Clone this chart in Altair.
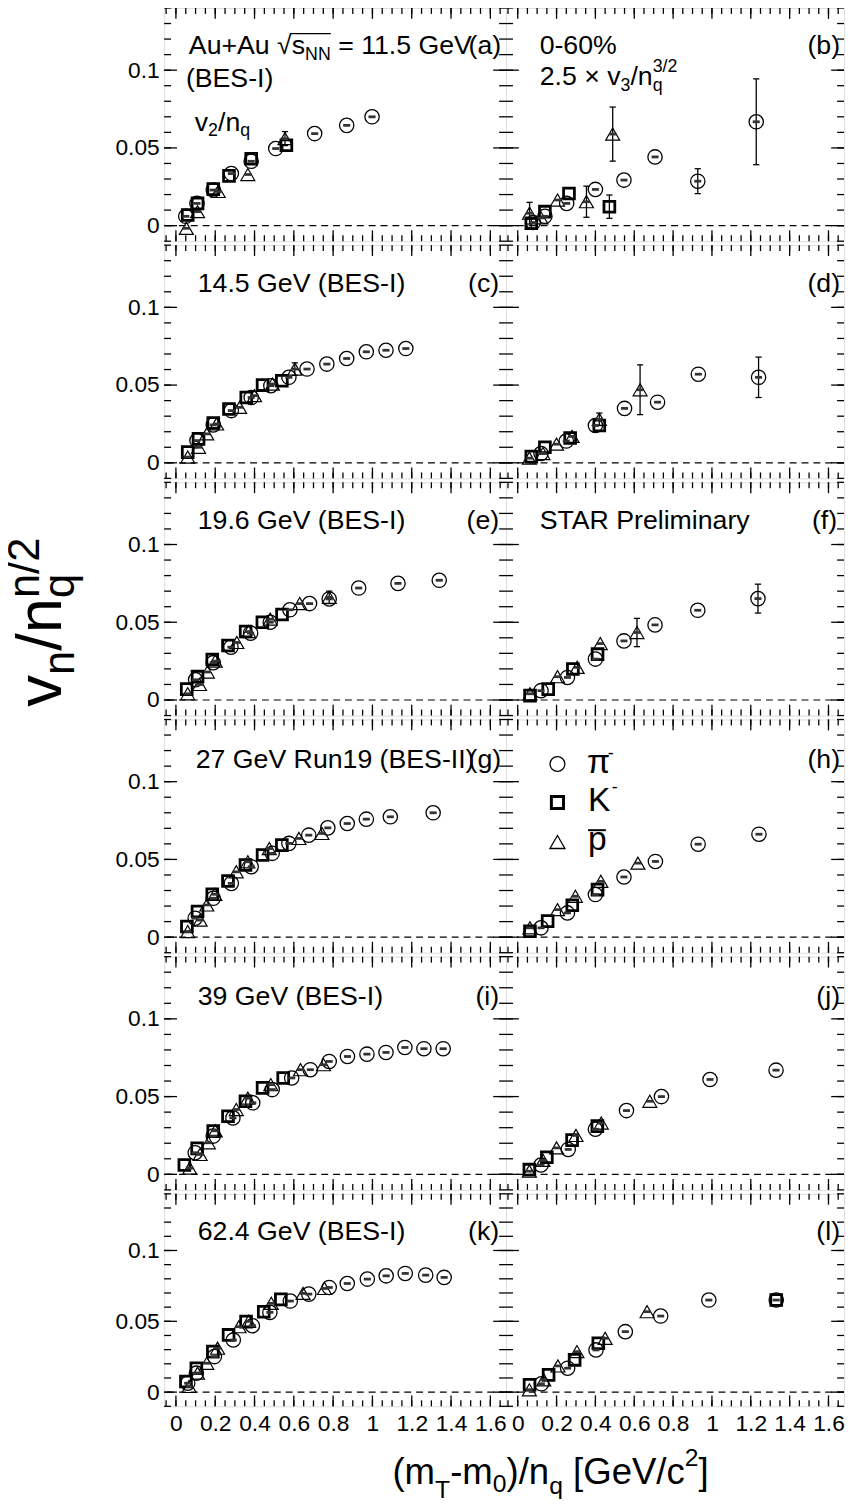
import altair as alt
import pandas as pd

FONT = "Liberation Sans"

# ---------------- data: (x = (mT-m0)/nq , y = vn/nq^(n/2)) ----------------
# panel (a) 11.5 GeV v2
a_pi = [(0.05, 0.006), (0.107, 0.0143), (0.19, 0.0229), (0.282, 0.0335), (0.383, 0.0414),
        (0.508, 0.0496), (0.706, 0.0592), (0.869, 0.0645), (0.998, 0.070)]
a_k = [(0.06, 0.0068), (0.11, 0.0143), (0.19, 0.0235), (0.27, 0.032), (0.383, 0.043), (0.562, 0.0517)]
a_p = [(0.053, -0.0017), (0.11, 0.009), (0.215, 0.022), (0.366, 0.0329), (0.555, 0.056)]
a_err = [(0.555, 0.056, 0.0045)]
# panel (b) 11.5 GeV v3
b_pi = [(0.08, 0.002), (0.14, 0.006), (0.252, 0.0143), (0.40, 0.0233), (0.547, 0.0293),
        (0.707, 0.0442), (0.927, 0.0286), (1.228, 0.0668)]
b_k = [(0.07, 0.0015), (0.14, 0.009), (0.264, 0.0207), (0.472, 0.0122)]
b_p = [(0.061, 0.008), (0.12, 0.005), (0.205, 0.0165), (0.354, 0.0154), (0.489, 0.0589)]
b_err = [(0.927, 0.0286, 0.008), (1.228, 0.0668, 0.0276), (0.472, 0.0122, 0.0075),
         (0.061, 0.008, 0.007), (0.354, 0.0154, 0.010), (0.489, 0.0589, 0.0174), (0.07, 0.0015, 0.003)]
# panel (c) 14.5 GeV v2
c_pi = [(0.107, 0.0143), (0.19, 0.0244), (0.282, 0.0336), (0.383, 0.042), (0.483, 0.0496),
        (0.575, 0.055), (0.667, 0.0603), (0.768, 0.0635), (0.869, 0.0671), (0.969, 0.0714),
        (1.069, 0.0724), (1.17, 0.0735)]
c_k = [(0.06, 0.0069), (0.115, 0.0154), (0.19, 0.0256), (0.27, 0.0346), (0.358, 0.042),
       (0.441, 0.050), (0.539, 0.0528)]
c_p = [(0.06, 0.0037), (0.115, 0.010), (0.157, 0.0186), (0.207, 0.025), (0.324, 0.0357),
       (0.40, 0.0432), (0.491, 0.0507), (0.605, 0.0603)]
c_err = [(0.605, 0.0603, 0.004)]
# panel (d) 14.5 GeV v3
d_pi = [(0.12, 0.006), (0.25, 0.014), (0.40, 0.024), (0.55, 0.035), (0.72, 0.039),
        (0.93, 0.057), (1.24, 0.055)]
d_k = [(0.07, 0.004), (0.14, 0.010), (0.27, 0.016), (0.42, 0.024)]
d_p = [(0.06, 0.003), (0.13, 0.006), (0.20, 0.012), (0.28, 0.017), (0.42, 0.028), (0.63, 0.047)]
d_err = [(1.24, 0.055, 0.013), (0.63, 0.047, 0.016), (0.42, 0.028, 0.004)]
# panel (e) 19.6 GeV v2
e_pi = [(0.10, 0.013), (0.19, 0.024), (0.28, 0.034), (0.38, 0.043), (0.48, 0.050), (0.58, 0.058),
        (0.68, 0.062), (0.78, 0.065), (0.93, 0.072), (1.13, 0.075), (1.34, 0.077)]
e_k = [(0.055, 0.007), (0.11, 0.015), (0.185, 0.026), (0.265, 0.035), (0.355, 0.044),
       (0.44, 0.050), (0.54, 0.055)]
e_p = [(0.06, 0.004), (0.12, 0.010), (0.16, 0.018), (0.20, 0.025), (0.31, 0.037), (0.37, 0.044),
       (0.48, 0.052), (0.63, 0.062), (0.78, 0.066)]
e_err = [(0.78, 0.066, 0.004)]
# panel (f) 19.6 GeV v3
f_pi = [(0.12, 0.006), (0.256, 0.0145), (0.40, 0.0263), (0.547, 0.038), (0.707, 0.0483),
        (0.927, 0.0577), (1.237, 0.0652)]
f_k = [(0.0635, 0.0028), (0.157, 0.007), (0.284, 0.0199), (0.411, 0.0295)]
f_p = [(0.063, 0.004), (0.205, 0.015), (0.306, 0.021), (0.425, 0.0363), (0.614, 0.0434)]
f_err = [(1.237, 0.0652, 0.0093), (0.614, 0.0434, 0.0091)]
# panel (g) 27 GeV v2
g_pi = [(0.098, 0.0122), (0.19, 0.025), (0.282, 0.0346), (0.383, 0.0453), (0.49, 0.0539),
        (0.575, 0.0603), (0.676, 0.0656), (0.773, 0.0703), (0.872, 0.0731), (0.969, 0.0759),
        (1.091, 0.0774), (1.309, 0.080)]
g_k = [(0.056, 0.0069), (0.11, 0.0165), (0.185, 0.0276), (0.265, 0.0361), (0.354, 0.0464),
       (0.441, 0.0528), (0.539, 0.0592)]
g_p = [(0.06, 0.0036), (0.123, 0.011), (0.157, 0.0207), (0.198, 0.0276), (0.307, 0.042),
       (0.366, 0.0485), (0.475, 0.057), (0.626, 0.0635), (0.743, 0.0667)]
g_err = []
# panel (h) 27 GeV v3
h_pi = [(0.12, 0.006), (0.256, 0.0156), (0.40, 0.0274), (0.547, 0.0387), (0.709, 0.0487),
        (0.929, 0.0598), (1.242, 0.0662)]
h_k = [(0.063, 0.0038), (0.154, 0.0103), (0.281, 0.0205), (0.411, 0.0306)]
h_p = [(0.063, 0.006), (0.205, 0.0177), (0.297, 0.0263), (0.428, 0.0359), (0.619, 0.0476)]
h_err = []
# panel (i) 39 GeV v2
i_pi = [(0.098, 0.0139), (0.19, 0.0246), (0.29, 0.0363), (0.391, 0.046), (0.49, 0.0545),
        (0.589, 0.062), (0.684, 0.0673), (0.78, 0.0726), (0.873, 0.0758), (0.972, 0.0773),
        (1.069, 0.0784), (1.165, 0.0816), (1.262, 0.0808), (1.36, 0.0808)]
i_k = [(0.043, 0.006), (0.108, 0.0167), (0.19, 0.0278), (0.265, 0.0374), (0.354, 0.047),
       (0.441, 0.0556), (0.546, 0.062)]
i_p = [(0.07, 0.004), (0.123, 0.0128), (0.165, 0.0203), (0.20, 0.028), (0.307, 0.0417),
       (0.366, 0.049), (0.483, 0.0577), (0.634, 0.0673), (0.751, 0.0705)]
i_err = []
# panel (j) 39 GeV v3
j_pi = [(0.12, 0.006), (0.26, 0.016), (0.40, 0.029), (0.56, 0.041), (0.74, 0.050),
        (0.99, 0.061), (1.33, 0.067)]
j_k = [(0.06, 0.003), (0.15, 0.011), (0.28, 0.022), (0.41, 0.031)]
j_p = [(0.06, 0.002), (0.13, 0.009), (0.20, 0.017), (0.30, 0.025), (0.43, 0.033), (0.68, 0.047)]
j_err = []
# panel (k) 62.4 GeV v2
k_pi = [(0.06, 0.0063), (0.104, 0.0134), (0.196, 0.0251), (0.292, 0.0368), (0.389, 0.0469),
        (0.478, 0.0563), (0.582, 0.0643), (0.676, 0.0692), (0.78, 0.0739), (0.872, 0.0767),
        (0.974, 0.0798), (1.07, 0.0821), (1.167, 0.0838), (1.271, 0.0826), (1.365, 0.081)]
k_k = [(0.051, 0.0075), (0.104, 0.0169), (0.188, 0.0286), (0.268, 0.0404), (0.357, 0.0498),
       (0.447, 0.0568), (0.534, 0.0655)]
k_p = [(0.067, 0.004), (0.11, 0.0134), (0.157, 0.0204), (0.212, 0.031), (0.321, 0.0462),
       (0.37, 0.050), (0.485, 0.0627), (0.647, 0.0697), (0.756, 0.0732)]
k_err = []
# panel (l) 62.4 GeV v3
l_pi = [(0.122, 0.0059), (0.257, 0.0169), (0.403, 0.0298), (0.554, 0.0427), (0.736, 0.0537),
        (0.984, 0.065), (1.331, 0.065)]
l_k = [(0.061, 0.0052), (0.159, 0.0122), (0.293, 0.0228), (0.415, 0.0345), (1.331, 0.065)]
l_p = [(0.06, 0.0016), (0.134, 0.0087), (0.207, 0.0185), (0.305, 0.0286), (0.45, 0.038), (0.666, 0.0568)]
l_err = []

XMAJ = [0, 0.2, 0.4, 0.6, 0.8, 1.0, 1.2, 1.4, 1.6]
XMIN = [round(-0.05 + 0.05 * i, 2) for i in range(35)]
YMAJ = [0, 0.05, 0.1]
YMIN = [round(-0.01 + 0.01 * i, 2) for i in range(16)]

# ---------------- helpers ----------------
ONE = pd.DataFrame({"o": [0]})
XS = alt.Scale(domain=[-0.06, 1.68], nice=False, zero=False)
YS = alt.Scale(domain=[-0.01, 0.14], nice=False, zero=False)
W_L, W_R = 346, 342
H, H_LAST = 236, 215
TS = 27      # panel text size
LS = 23      # tick label size

CW = {' ': 278, '(': 333, ')': 333, '-': 333, '/': 278, '.': 278, '=': 584, '+': 584, '[': 278,
      ']': 278, '%': 889, '×': 584, '√': 549, 'A': 667, 'B': 667, 'E': 667, 'G': 778, 'I': 278,
      'K': 667, 'N': 722, 'P': 667, 'R': 722, 'S': 667, 'T': 611, 'V': 667, 'a': 556, 'c': 500,
      'e': 556, 'i': 222, 'l': 222, 'm': 833, 'n': 556, 'p': 556, 'q': 556, 'r': 333, 's': 500,
      'u': 556, 'v': 500, 'y': 500, 'π': 556}


def tw(s, size):
    return sum(CW.get(c, 556) for c in s) * size / 1000.0


def label(s, x, y, size, align="left", angle=0):
    return alt.Chart(ONE).mark_text(text=s, font=FONT, fontSize=size, align=align,
                                    baseline="alphabetic", angle=angle, color="black").encode(
        x=alt.value(x), y=alt.value(y))


def rich(segs, x, y, angle=0):
    out = []
    pos = 0.0
    for seg in segs:
        text, size, shift = seg[0], seg[1], seg[2]
        adv = seg[3] if len(seg) > 3 else True
        lead = len(text) - len(text.lstrip(" "))
        body = text.strip(" ")
        p0 = pos + tw(" " * lead, size)
        if angle == 0:
            out.append(label(body, x + p0, y + shift, size))
        else:
            out.append(label(body, x + shift, y - p0, size, angle=270))
        if adv:
            pos += tw(text, size)
    return out


def hline(x1, x2, y, sw=1.4):
    return alt.Chart(ONE).mark_rule(color="black", strokeWidth=sw).encode(
        x=alt.value(x1), x2=alt.value(x2), y=alt.value(y))


def sym(shape, x, y, size, sw):
    return alt.Chart(ONE).mark_point(shape=shape, size=size, filled=False, color="black",
                                     strokeWidth=sw, opacity=1).encode(x=alt.value(x), y=alt.value(y))


def texts_for(key, w):
    L = []
    R = w - 7
    B = 47
    if key == "a":
        segs = [("Au+Au ", TS, 0), ("√", TS, 0), ("s", TS, 0), ("NN", 18, 6), (" = 11.5 GeV", TS, 0)]
        L += rich(segs, 25, B)
        xs = 25 + tw("Au+Au √", TS)
        xe = xs + tw("s", TS) + tw("NN", 18)
        L.append(hline(xs - 1, xe, 26))
        L.append(label("(a)", R + 2, B, TS, "right"))
        L.append(label("(BES-I)", 22, 80, TS))
        L += rich([("v", TS, 0), ("2", 18, 6), ("/n", TS, 0), ("q", 18, 6)], 31, 124)
    elif key == "b":
        L.append(label("0-60%", 34, B, TS))
        L += rich([("2.5 × v", TS, 0), ("3", 18, 6), ("/n", TS, 0), ("q", 18, 6, False),
                   ("3/2", 18, -13)], 34, 78)
        L.append(label("(b)", R + 3, B, TS, "right"))
    elif key == "c":
        L.append(label("14.5 GeV (BES-I)", 34, B, TS))
        L.append(label("(c)", R, B, TS, "right"))
    elif key == "d":
        L.append(label("(d)", R + 3, B, TS, "right"))
    elif key == "e":
        L.append(label("19.6 GeV (BES-I)", 34, B, TS))
        L.append(label("(e)", R, B, TS, "right"))
        # y-axis title placed in this panel (row 3, left)
        L += rich([("v", 64, 0), ("n", 44, 13), ("/", 64, 0), ("n", 64, 0), ("q", 44, 13, False),
                   ("n/2", 44, -23)], -104, 227, angle=270)
    elif key == "f":
        L.append(label("STAR Preliminary", 34, B, TS))
        L.append(label("(f)", R, B, TS, "right"))
    elif key == "g":
        L.append(label("27 GeV Run19 (BES-II)", 32, B + 2, TS))
        L.append(label("(g)", R + 2, B + 2, TS, "right"))
    elif key == "h":
        L.append(label("(h)", R + 3, B + 2, TS, "right"))
        L.append(sym("circle", 52, 45, 225, 1.3))
        L.append(sym("square", 52, 84, 150, 3))
        L.append(sym("triangle-up", 52, 124, 230, 1.3))
        L.append(label("π", 82, 54, 34))
        L.append(label("-", 103, 40, 18))
        L.append(label("K", 83, 93, 34))
        L.append(label("-", 107, 74, 18))
        L.append(label("p", 83, 132, 34))
        L.append(hline(83, 101, 112, 2))
    elif key == "i":
        L.append(label("39 GeV (BES-I)", 34, B + 2, TS))
        L.append(label("(i)", R, B + 2, TS, "right"))
    elif key == "j":
        L.append(label("(j)", R + 3, B + 2, TS, "right"))
    elif key == "k":
        L.append(label("62.4 GeV (BES-I)", 34, B, TS))
        L.append(label("(k)", R, B, TS, "right"))
        # x-axis title placed below this panel
        L += rich([("(m", 37, 0), ("T", 25, 14), ("-m", 37, 0), ("0", 25, 8), (")/n", 37, 0),
                   ("q", 25, 10), (" [GeV/c", 37, 0), ("2", 25, -19), ("]", 37, 0)], 231, 294)
    elif key == "l":
        L.append(label("(l)", R + 3, B, TS, "right"))
    return L


def pdf(lst):
    return pd.DataFrame(lst, columns=["x", "y"])


def panel(key, pi, k, p, err, col, row):
    w = W_L if col == 0 else W_R
    h = H if row < 5 else H_LAST
    xa = alt.Axis(values=XMAJ, format="~g", ticks=False, domain=False, grid=False, labelFontSize=LS,
                  labelPadding=6, title=None, labelFont=FONT, labelColor="black", labelFlush=False,
                  labelOverlap=False) if row == 5 else None
    ya = alt.Axis(values=YMAJ, format="~g", ticks=False, domain=False, grid=False, labelFontSize=LS,
                  labelPadding=5, title=None, labelFont=FONT, labelColor="black", labelFlush=False,
                  labelOverlap=False) if col == 0 else None

    def X(f):
        return alt.X(f"{f}:Q", scale=XS, axis=xa)

    def Y(f):
        return alt.Y(f"{f}:Q", scale=YS, axis=ya)

    layers = []
    layers.append(alt.Chart(pd.DataFrame({"v": [0.0]})).mark_rule(
        color="black", strokeWidth=1.2, strokeDash=[7, 5]).encode(y=Y("v")))
    # ticks (inward on all four sides)
    for vals, Ln in ((YMAJ, 13), (YMIN, 7)):
        d = pd.DataFrame({"v": vals})
        layers.append(alt.Chart(d).mark_rule(color="black", strokeWidth=1.3).encode(
            y=Y("v"), x=alt.value(0), x2=alt.value(Ln)))
        layers.append(alt.Chart(d).mark_rule(color="black", strokeWidth=1.3).encode(
            y=Y("v"), x=alt.value(w - Ln), x2=alt.value(w)))
    for vals, Ln in ((XMAJ, 11), (XMIN, 6)):
        d = pd.DataFrame({"v": vals})
        layers.append(alt.Chart(d).mark_rule(color="black", strokeWidth=1.3).encode(
            x=X("v"), y=alt.value(h), y2=alt.value(h - Ln)))
        layers.append(alt.Chart(d).mark_rule(color="black", strokeWidth=1.3).encode(
            x=X("v"), y=alt.value(0), y2=alt.value(Ln)))
    # error bars
    if err:
        edf = pd.DataFrame(err, columns=["x", "y", "e"])
        base = alt.Chart(edf).transform_calculate(
            lo="datum.y - datum.e", hi="datum.y + datum.e",
            xl="datum.x - 0.016", xr="datum.x + 0.016")
        layers.append(base.mark_rule(color="black", strokeWidth=1.3).encode(
            x=X("x"), y=Y("lo"), y2="hi:Q"))
        layers.append(base.mark_rule(color="black", strokeWidth=1.3).encode(
            x=X("xl"), x2="xr:Q", y=Y("lo")))
        layers.append(base.mark_rule(color="black", strokeWidth=1.3).encode(
            x=X("xl"), x2="xr:Q", y=Y("hi")))
    # markers
    layers.append(alt.Chart(pdf(pi)).mark_point(shape="circle", size=210, filled=False, color="black",
                                                strokeWidth=1.3, opacity=1).encode(x=X("x"), y=Y("y")))
    layers.append(alt.Chart(pdf(p)).mark_point(shape="triangle-up", size=200, filled=False, color="black",
                                               strokeWidth=1.2, opacity=1).encode(x=X("x"), y=Y("y")))
    layers.append(alt.Chart(pdf(k)).mark_point(shape="square", size=120, filled=False, color="black",
                                               strokeWidth=2.8, opacity=1).encode(x=X("x"), y=Y("y")))
    # systematic boxes inside markers
    bars = pd.concat([pdf(pi), pdf(p)], ignore_index=True)
    layers.append(alt.Chart(bars).transform_calculate(
        xl="datum.x - 0.018", xr="datum.x + 0.018").mark_rule(color="#333333", strokeWidth=2.8).encode(
        x=X("xl"), x2="xr:Q", y=Y("y")))
    layers += texts_for(key, w)
    return alt.layer(*layers).properties(width=w, height=h)


PANELS = [
    ("a", a_pi, a_k, a_p, a_err), ("b", b_pi, b_k, b_p, b_err),
    ("c", c_pi, c_k, c_p, c_err), ("d", d_pi, d_k, d_p, d_err),
    ("e", e_pi, e_k, e_p, e_err), ("f", f_pi, f_k, f_p, f_err),
    ("g", g_pi, g_k, g_p, g_err), ("h", h_pi, h_k, h_p, h_err),
    ("i", i_pi, i_k, i_p, i_err), ("j", j_pi, j_k, j_p, j_err),
    ("k", k_pi, k_k, k_p, k_err), ("l", l_pi, l_k, l_p, l_err),
]

rows = []
for r in range(6):
    left = panel(*PANELS[2 * r], col=0, row=r)
    right = panel(*PANELS[2 * r + 1], col=1, row=r)
    rows.append(alt.hconcat(left, right, spacing=0, bounds="flush"))

chart = alt.vconcat(*rows, spacing=0).properties(
    padding={"left": -5, "top": -11, "right": 0, "bottom": 0}
).configure_view(stroke="black", strokeWidth=2).configure(background="white")

chart.save("out.html", embed_options={"renderer": "svg", "actions": False})
